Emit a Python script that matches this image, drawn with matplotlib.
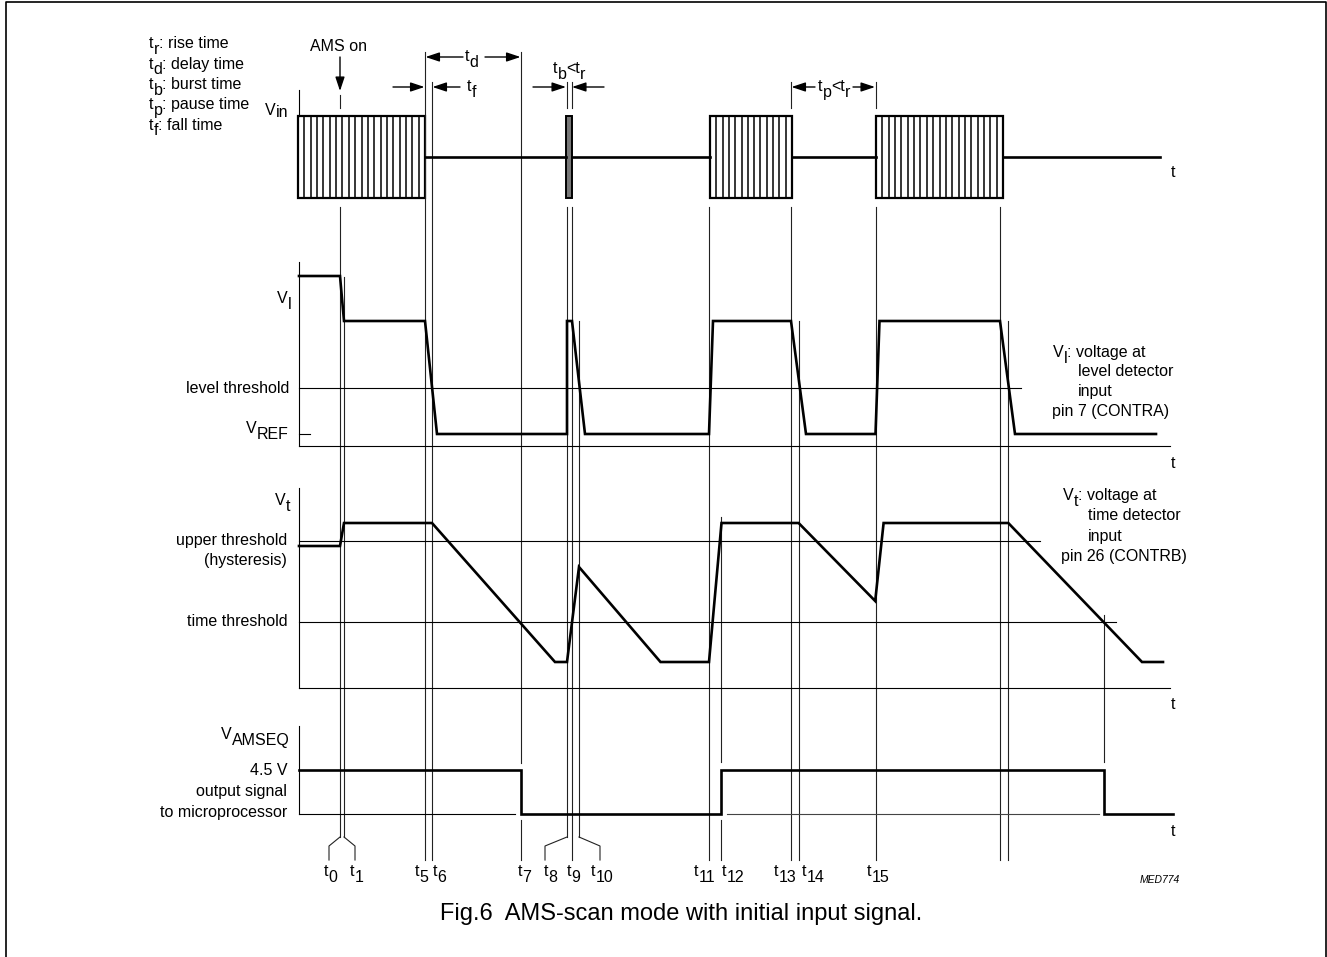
import numpy as np
import matplotlib
matplotlib.use("Agg")
import matplotlib.pyplot as plt
from matplotlib.patches import Rectangle

plt.rcParams['font.family'] = ['Liberation Sans', 'DejaVu Sans']

# ---- diagram data (drawing units = pixels of the 1327x957 sheet, y downwards) ----
# input bursts on V_in (start, end)
vin_bursts = [(298, 425), (566, 572), (710, 792), (876, 1003)]
vin_high, vin_low, vin_mid = 116, 198, 157
vin_end = 1160

# level detector voltage V_l
vi_t = [299, 340, 344, 425, 437, 567, 567, 572, 585, 709, 713, 791, 806, 875.5, 879.5, 1000, 1015, 1156]
vi_v = [276, 276, 321, 321, 434, 434, 321, 321, 434, 434, 321, 321, 434, 434, 321, 321, 434, 434]

# time detector voltage V_t
vt_t = [299, 340, 344, 432, 555, 567, 579, 660.5, 709, 721.5, 798.6, 875.2, 883.6, 1008.3, 1142, 1163]
vt_v = [546, 546, 523, 523, 662, 662, 567, 662, 662, 523, 523, 601, 523, 523, 662, 662]

# output V_AMSEQ
amseq_t = [299, 521, 521, 721, 721, 1104, 1104, 1173]
amseq_v = [770, 770, 814, 814, 770, 770, 814, 814]

# time marker guide lines: (x, y_start, y_end)
guides = [
    (340, 95, 108), (340, 207, 837), (344, 277, 837),
    (425, 52, 860), (432, 82, 860),
    (521, 52, 763), (521, 820, 860),
    (566.5, 82, 108), (571.5, 82, 108),
    (567, 207, 837), (571.5, 207, 860), (579, 321, 837),
    (709, 207, 860), (721, 517, 762), (721, 820, 860),
    (791, 82, 108), (791, 207, 860), (799, 321, 860),
    (875.5, 82, 108), (875.5, 207, 860),
    (1000, 207, 860), (1008, 321, 860), (1104, 615, 762),
]
# bent leader lines below the diagram: (x_top, x_bottom)
brackets = [(340, 329), (344, 355), (567, 545), (579, 600)]

# time labels: (subscript, x of 't')
t_labels = [('0', 324), ('1', 350), ('5', 415), ('6', 433), ('7', 518), ('8', 544),
            ('9', 567), ('10', 591), ('11', 694), ('12', 722), ('13', 774),
            ('14', 802), ('15', 867)]

legend_lines = [('r', ': rise time'), ('d', ': delay time'), ('b', ': burst time'),
                ('p', ': pause time'), ('f', ': fall time')]

FS = 11.5
SUB = 4.0
THICK = 1.9
THIN = 0.8

fig = plt.figure(figsize=(13.27, 9.57), dpi=100)
ax = fig.add_axes([0, 0, 1, 1])
ax.set_xlim(0, 1327)
ax.set_ylim(957, 0)
ax.axis('off')


def chain(x, y, parts, size=FS, **kw):
    first = ax.text(x, y, parts[0][0], fontsize=size, ha='left', va='baseline', **kw)
    prev = first
    for s, dy in parts[1:]:
        prev = ax.annotate(s, xy=(1, 0), xycoords=(prev, first), xytext=(0, -dy),
                           textcoords='offset points', fontsize=size,
                           ha='left', va='bottom', **kw)
    return first


def arrow(tail, head):
    ax.annotate('', xy=head, xytext=tail,
                arrowprops=dict(arrowstyle='-|>,head_length=0.6,head_width=0.2',
                                color='k', lw=1.0, mutation_scale=14,
                                shrinkA=0, shrinkB=0))


# frame
ax.plot([6, 6, 1326, 1326], [957, 2, 2, 957], color='k', lw=1.2)

# guide lines
for x, y0, y1 in guides:
    ax.plot([x, x], [y0, y1], color='#222222', lw=THIN)
for xt, xb in brackets:
    ax.plot([xt, xb, xb], [837, 846, 860], color='#222222', lw=THIN)

# ---- V_in ----
ax.plot([299, 299], [90, vin_high], color='k', lw=THIN)
prev_end = None
for a, b in vin_bursts:
    if b - a < 10:
        ax.add_patch(Rectangle((a, vin_high), b - a, vin_low - vin_high,
                               facecolor='#777777', edgecolor='k', lw=1.4))
    else:
        ax.add_patch(Rectangle((a, vin_high), b - a, vin_low - vin_high,
                               facecolor='none', edgecolor='k', lw=1.6))
        n = int(round((b - a) / 6.5))
        for xs in np.linspace(a, b, n + 1)[1:-1]:
            ax.plot([xs, xs], [vin_high, vin_low], color='k', lw=1.1)
    if prev_end is not None:
        ax.plot([prev_end, a], [vin_mid, vin_mid], color='k', lw=THICK)
    prev_end = b
ax.plot([prev_end, vin_end], [vin_mid, vin_mid], color='k', lw=THICK)

# ---- V_l ----
ax.plot([299, 299], [262, 446], color='k', lw=THIN)
ax.plot([299, 1170], [446, 446], color='k', lw=THIN)
ax.plot([299, 1021], [388, 388], color='k', lw=THIN)
ax.plot([299, 310], [434, 434], color='k', lw=THIN)
ax.plot(vi_t, vi_v, color='k', lw=THICK, solid_joinstyle='miter')

# ---- V_t ----
ax.plot([299, 299], [488, 688], color='k', lw=THIN)
ax.plot([299, 1170], [688, 688], color='k', lw=THIN)
ax.plot([299, 1040], [541, 541], color='k', lw=THIN)
ax.plot([299, 1116], [622, 622], color='k', lw=THIN)
ax.plot(vt_t, vt_v, color='k', lw=THICK, solid_joinstyle='miter')

# ---- V_AMSEQ ----
ax.plot([299, 299], [726, 814], color='k', lw=THIN)
ax.plot([299, 515], [814, 814], color='k', lw=THIN)
ax.plot([727, 1099], [814, 814], color='#444444', lw=THIN)
ax.plot(amseq_t, amseq_v, color='k', lw=THICK, solid_joinstyle='miter')

# ---- arrows and dimension marks ----
arrow((340, 57), (340, 91))
arrow((463, 57), (425.5, 57))
arrow((485, 57), (520.5, 57))
arrow((393, 87), (424.5, 87))
arrow((460, 87), (432.5, 87))
arrow((533, 87), (566, 87))
arrow((604, 87), (572, 87))
arrow((815, 87), (791.5, 87))
arrow((853, 87), (875, 87))

ax.text(338, 51, 'AMS on', fontsize=FS, ha='center', va='baseline')
chain(465, 61, [('t', 0), ('d', SUB)])
chain(467, 91, [('t', 0), ('f', SUB)])
chain(553, 73, [('t', 0), ('b', SUB), ('<t', 0), ('r', SUB)])
chain(818, 91, [('t', 0), ('p', SUB), ('<t', 0), ('r', SUB)])

# legend of symbols
for i, (s, rest) in enumerate(legend_lines):
    chain(149, 48.5 + i * 20.3, [('t', 0), (s, SUB), (rest, 0)])

# left labels
chain(265, 115, [('V', 0), ('in', 1.5)])
chain(277, 303, [('V', 0), ('l', SUB)])
ax.text(289, 393, 'level threshold', fontsize=FS, ha='right', va='baseline')
chain(246, 433, [('V', 0), ('REF', SUB)])
chain(275, 505, [('V', 0), ('t', SUB)])
ax.text(287, 545, 'upper threshold', fontsize=FS, ha='right', va='baseline')
ax.text(287, 565, '(hysteresis)', fontsize=FS, ha='right', va='baseline')
ax.text(288, 626, 'time threshold', fontsize=FS, ha='right', va='baseline')
chain(221, 739, [('V', 0), ('AMSEQ', SUB)])
ax.text(287, 775, '4.5 V', fontsize=FS, ha='right', va='baseline')
ax.text(287, 796, 'output signal', fontsize=FS, ha='right', va='baseline')
ax.text(287, 817, 'to microprocessor', fontsize=FS, ha='right', va='baseline')

# right annotations
chain(1053, 357, [('V', 0), ('l', SUB), (': voltage at', 0)])
ax.text(1078, 376, 'level detector', fontsize=FS, ha='left', va='baseline')
ax.text(1078, 396, 'input', fontsize=FS, ha='left', va='baseline')
ax.text(1052, 416, 'pin 7 (CONTRA)', fontsize=FS, ha='left', va='baseline')
chain(1063, 500, [('V', 0), ('t', SUB), (': voltage at', 0)])
ax.text(1088, 520, 'time detector', fontsize=FS, ha='left', va='baseline')
ax.text(1088, 541, 'input', fontsize=FS, ha='left', va='baseline')
ax.text(1061, 561, 'pin 26 (CONTRB)', fontsize=FS, ha='left', va='baseline')

# time axis letters
for yb in [177, 468, 709, 836]:
    ax.text(1173, yb, 't', fontsize=FS, ha='center', va='baseline')

# time instants
for s, x in t_labels:
    chain(x, 876, [('t', 0), (s, SUB)])

ax.text(1180, 883, 'MED774', fontsize=7.5, style='italic', ha='right', va='baseline')
ax.text(922, 920, 'Fig.6  AMS-scan mode with initial input signal.', fontsize=17,
        ha='right', va='baseline')

fig.savefig('out.png', dpi=100)
